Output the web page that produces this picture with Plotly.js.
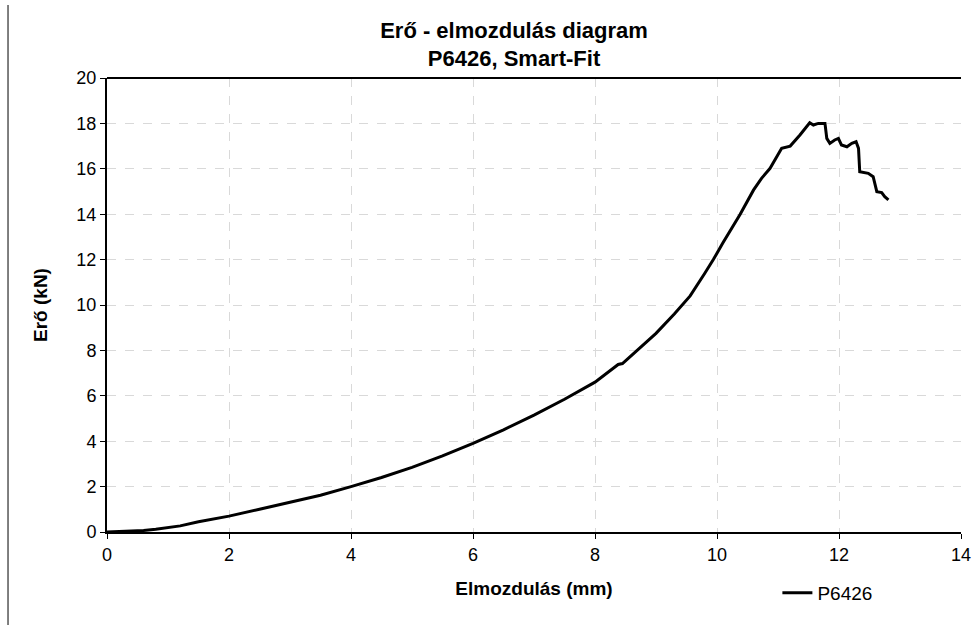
<!DOCTYPE html>
<html>
<head>
<meta charset="utf-8">
<script src="https://cdn.plot.ly/plotly-3.0.1.min.js"></script>
<style>html,body{margin:0;padding:0;background:#fff;}#chart{width:978px;height:625px;}</style>
</head>
<body>
<div id="chart"></div>
<script>
// Elmozdulás (mm)
const displacement = [0, 0.3, 0.6, 0.8, 1.0, 1.2, 1.5, 2.0, 2.5, 3.0, 3.5, 4.0, 4.5, 5.0, 5.5, 6.0, 6.5, 7.0, 7.5, 8.0, 8.3, 8.38, 8.45, 9.0, 9.3, 9.56, 9.8, 9.94, 10.1, 10.38, 10.6, 10.73, 10.87, 11.06, 11.2, 11.36, 11.52, 11.58, 11.66, 11.77, 11.8, 11.85, 11.93, 11.99, 12.04, 12.13, 12.21, 12.28, 12.32, 12.34, 12.48, 12.56, 12.62, 12.7, 12.75, 12.81];
// Erő (kN)
const force = [0, 0.03, 0.07, 0.12, 0.2, 0.27, 0.45, 0.7, 1.0, 1.3, 1.62, 2.0, 2.4, 2.85, 3.35, 3.9, 4.5, 5.15, 5.85, 6.6, 7.2, 7.38, 7.42, 8.75, 9.6, 10.4, 11.4, 12.0, 12.75, 14.0, 15.07, 15.58, 16.02, 16.9, 17.0, 17.49, 18.03, 17.93, 18.0, 18.0, 17.34, 17.12, 17.27, 17.34, 17.05, 16.97, 17.12, 17.19, 16.9, 15.87, 15.8, 15.65, 14.99, 14.95, 14.77, 14.63];
const seriesName = "P6426";
const xTicks = [0, 2, 4, 6, 8, 10, 12, 14];
const yTicks = [0, 2, 4, 6, 8, 10, 12, 14, 16, 18, 20];

const FONT = "Arial, 'Liberation Sans', sans-serif";

const trace = {
  x: displacement,
  y: force,
  type: "scatter",
  mode: "lines",
  name: seriesName,
  line: {color: "#000000", width: 3}
};

const axisCommon = {
  showline: true,
  linecolor: "#000000",
  linewidth: 2,
  ticks: "outside",
  ticklen: 5,
  tickwidth: 1,
  tickcolor: "#000000",
  showgrid: true,
  gridcolor: "#d9d9d9",
  gridwidth: 1,
  griddash: "dash",
  zeroline: false,
  tickfont: {family: FONT, size: 18, color: "#000000"}
};

const layout = {
  width: 978,
  height: 625,
  paper_bgcolor: "#ffffff",
  plot_bgcolor: "#ffffff",
  margin: {l: 107, r: 17, t: 78, b: 93},
  title: {
    text: "<b>Erő - elmozdulás diagram<br>P6426, Smart-Fit</b>",
    font: {family: FONT, size: 22, color: "#000000"},
    x: 0.4766, xref: "paper", xanchor: "center",
    y: 0.94, yref: "container", yanchor: "top"
  },
  xaxis: Object.assign({}, axisCommon, {
    range: [0, 14],
    tickvals: xTicks,
    mirror: false,
    title: {text: "<b>Elmozdulás (mm)</b>", font: {family: FONT, size: 19, color: "#000000"}, standoff: 18}
  }),
  yaxis: Object.assign({}, axisCommon, {
    range: [0, 20],
    tickvals: yTicks,
    title: {text: "<b>Erő (kN)</b>", font: {family: FONT, size: 19, color: "#000000"}, standoff: 24}
  }),
  showlegend: true,
  legend: {
    x: 0.785, xanchor: "left",
    y: -0.134, yanchor: "middle",
    font: {family: FONT, size: 19, color: "#000000"},
    bgcolor: "rgba(0,0,0,0)",
    itemwidth: 30
  },
  shapes: [
    {type: "line", xref: "paper", yref: "paper", x0: 0, x1: 1, y0: 1, y1: 1, line: {color: "#000000", width: 2}},
    {type: "line", xref: "paper", yref: "paper", x0: -0.1159, x1: -0.1159, y0: 1.161, y1: -0.21, line: {color: "#555555", width: 1.5}}
  ]
};

Plotly.newPlot("chart", [trace], layout, {displayModeBar: false, staticPlot: true});
</script>
</body>
</html>
